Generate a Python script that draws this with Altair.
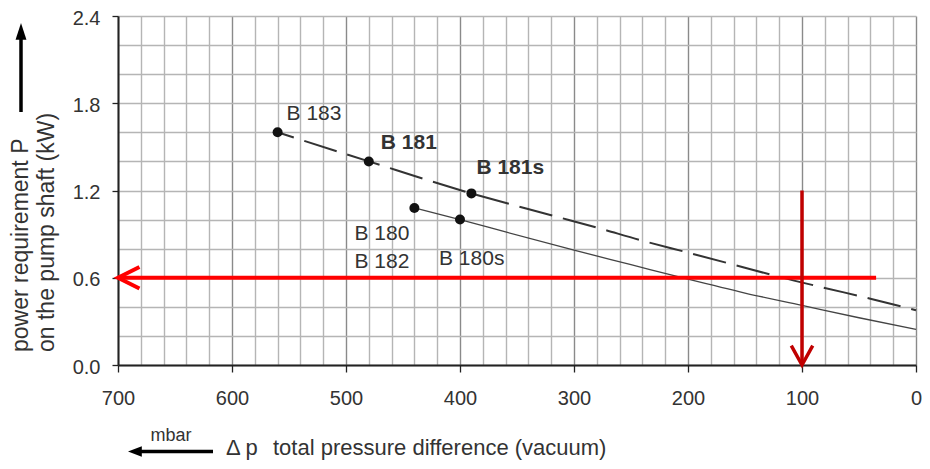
import altair as alt
import pandas as pd

# ---------------- data ----------------
x_grid = [700, 680, 660, 640, 620, 600, 580, 560, 540, 520, 500, 480, 460, 440, 420,
          400, 380, 360, 340, 320, 300, 280, 260, 240, 220, 200, 180, 160, 140, 120,
          100, 80, 60, 40, 20, 0]
y_grid = [0.0, 0.2, 0.4, 0.6, 0.8, 1.0, 1.2, 1.4, 1.6, 1.8, 2.0, 2.2, 2.4]

# dashed curve (B 183 / B 181 / B 181s)
dash_dp = [560, 480, 390, 320, 280, 240, 200, 160, 120, 80, 40, 0]
dash_p = [1.60, 1.40, 1.18, 1.03, 0.945, 0.855, 0.773, 0.69, 0.606, 0.53, 0.456, 0.376]

# solid curve (B 180 / B 182 / B 180s)
solid_dp = [440, 400, 360, 300, 250, 200, 150, 100, 50, 0]
solid_p = [1.08, 1.00, 0.915, 0.79, 0.69, 0.59, 0.495, 0.41, 0.325, 0.245]

# pump points
point_dp = [560, 480, 390, 440, 400]
point_p = [1.60, 1.40, 1.18, 1.08, 1.00]
point_label = ["B 183", "B 181", "B 181s", "B 180\nB 182", "B 180s"]

# red reading lines
red_h_dp = [700]
red_h_dp2 = [35]
red_h_p = [0.6]
red_v_dp = [100]
red_v_p = [1.2]
red_v_p2 = [0.0]

# ---------------- tables ----------------
dash_df = pd.DataFrame({"dp": dash_dp, "p": dash_p})
solid_df = pd.DataFrame({"dp": solid_dp, "p": solid_p})
pts_df = pd.DataFrame({"dp": point_dp, "p": point_p, "label": point_label})
red_h_df = pd.DataFrame({"dp": red_h_dp, "dp2": red_h_dp2, "p": red_h_p})
red_v_df = pd.DataFrame({"dp": red_v_dp, "p": red_v_p, "p2": red_v_p2})
one = alt.Data(values=[{"k": 1}])

FONT = "Liberation Sans"
TXT = "#333333"

major_x = "datum.value % 100 === 0"
major_y = "round(datum.value * 10) % 6 === 0"

xaxis = alt.Axis(
    values=x_grid, title=None,
    grid=True,
    gridColor={"condition": {"test": major_x, "value": "#8a8a8a"}, "value": "#b5b5b5"},
    gridWidth=1.4,
    labelExpr=f"{major_x} ? datum.label : ''",
    labelOverlap=False, labelFlush=False, labelFont=FONT, labelFontSize=20, labelColor=TXT,
    labelPadding=16,
    tickSize=7, tickColor="#222222", tickWidth=1.3,
    tickOpacity={"condition": {"test": major_x, "value": 1}, "value": 0},
    domainColor="#222222", domainWidth=2,
)
yaxis = alt.Axis(
    values=y_grid, title=None,
    grid=True, gridColor="#b5b5b5", gridWidth=1.4,
    labelExpr=f"{major_y} ? format(datum.value, '.1f') : ''",
    labelOverlap=False, labelFlush=False, labelFont=FONT, labelFontSize=20, labelColor=TXT,
    labelPadding=12, labelOffset=2,
    tickSize=6, tickColor="#222222", tickWidth=1.3,
    tickOpacity={"condition": {"test": major_y, "value": 1}, "value": 0},
    domainColor="#222222", domainWidth=2,
)
xs = alt.Scale(domain=[700, 0], nice=False, zero=False)
ys = alt.Scale(domain=[0, 2.4], nice=False)


def X(f="dp"):
    return alt.X(f, type="quantitative", scale=xs, axis=xaxis)


def Y(f="p"):
    return alt.Y(f, type="quantitative", scale=ys, axis=yaxis)


dash_line = alt.Chart(dash_df).mark_line(
    color="#333333", strokeWidth=2, strokeDash=[34, 11], strokeDashOffset=17,
    interpolate="monotone"
).encode(x=X(), y=Y())

solid_line = alt.Chart(solid_df).mark_line(
    color="#444444", strokeWidth=1.3, interpolate="monotone"
).encode(x=X(), y=Y())

points = alt.Chart(pts_df).mark_circle(color="#111111", opacity=1, size=100).encode(x=X(), y=Y())

label_style = {
    "B 183": dict(align="left", dx=9, dy=-12, fontWeight="normal"),
    "B 181": dict(align="left", dx=12, dy=-12, fontWeight="bold"),
    "B 181s": dict(align="left", dx=5, dy=-19, fontWeight="bold"),
    "B 180\nB 182": dict(align="right", dx=-5, dy=32, fontWeight="normal"),
    "B 180s": dict(align="left", dx=-21, dy=45, fontWeight="normal"),
}
labels = []
for lab in point_label:
    st = label_style[lab]
    labels.append(
        alt.Chart(pts_df).transform_filter(alt.datum.label == lab).mark_text(
            font=FONT, fontSize=21, color=TXT, baseline="alphabetic",
            lineBreak="\n", lineHeight=28, **st
        ).encode(x=X(), y=Y(), text="label:N")
    )

RED = "#ff0000"
DRED = "#c00000"
red_h = alt.Chart(red_h_df).mark_rule(color=RED, strokeWidth=4).encode(
    x=X(), x2="dp2:Q", y=Y())
red_h_head = alt.Chart(red_h_df).mark_point(
    shape="M2,-1L0,0L2,1", filled=False, color=RED, strokeWidth=4, size=460, opacity=1
).encode(x=X(), y=Y())
red_v = alt.Chart(red_v_df).mark_rule(color=DRED, strokeWidth=3.5).encode(
    x=X(), y=Y(), y2="p2:Q")
red_v_head = alt.Chart(red_v_df).mark_point(
    shape="M-1,-1.8L0,0L1,-1.8", filled=False, color=DRED, strokeWidth=3.5, size=460, opacity=1
).encode(x=X(), y=Y("p2"))

# ---------------- axis titles with arrows ----------------
ytitle1 = alt.Chart(one).mark_text(
    text="power requirement P", font=FONT, fontSize=23, color=TXT,
    angle=270, align="left", baseline="middle"
).encode(x=alt.value(-97), y=alt.value(336))
ytitle2 = alt.Chart(one).mark_text(
    text="on the pump shaft (kW)", font=FONT, fontSize=23, color=TXT,
    angle=270, align="left", baseline="middle"
).encode(x=alt.value(-71), y=alt.value(336))
yarrow = alt.Chart(one).mark_rule(color="#000000", strokeWidth=3.5).encode(
    x=alt.value(-97), y=alt.value(96), y2=alt.value(20))
yarrow_head = alt.Chart(one).mark_point(
    shape="M0,0L0.65,2L-0.65,2Z", filled=True, color="#000000", size=280, opacity=1
).encode(x=alt.value(-97), y=alt.value(7))

xarrow = alt.Chart(one).mark_rule(color="#000000", strokeWidth=3.5).encode(
    x=alt.value(20), x2=alt.value(95), y=alt.value(435.5))
xarrow_head = alt.Chart(one).mark_point(
    shape="M0,0L2,-0.75L2,0.75Z", filled=True, color="#000000", size=190, opacity=1
).encode(x=alt.value(10), y=alt.value(435.5))
mbar = alt.Chart(one).mark_text(
    text="mbar", font=FONT, fontSize=18, color=TXT, align="center", baseline="alphabetic"
).encode(x=alt.value(53), y=alt.value(425))
dp_txt = alt.Chart(one).mark_text(
    text="Δ p", font=FONT, fontSize=22, color=TXT, align="left", baseline="alphabetic"
).encode(x=alt.value(108), y=alt.value(439))
xtitle = alt.Chart(one).mark_text(
    text="total pressure difference (vacuum)", font=FONT, fontSize=22, color=TXT,
    align="left", baseline="alphabetic"
).encode(x=alt.value(155), y=alt.value(439))

chart = alt.layer(
    dash_line, solid_line, points, *labels,
    red_h, red_h_head, red_v, red_v_head,
    ytitle1, ytitle2, yarrow, yarrow_head,
    xarrow, xarrow_head, mbar, dp_txt, xtitle,
).properties(
    width=798, height=349,
    autosize=alt.AutoSizeParams(type="none"),
    padding={"left": 110, "top": 8, "right": 6, "bottom": 95},
    background="white",
).configure_view(stroke="transparent")

chart.save("out.html", embed_options={"renderer": "svg", "actions": False})
